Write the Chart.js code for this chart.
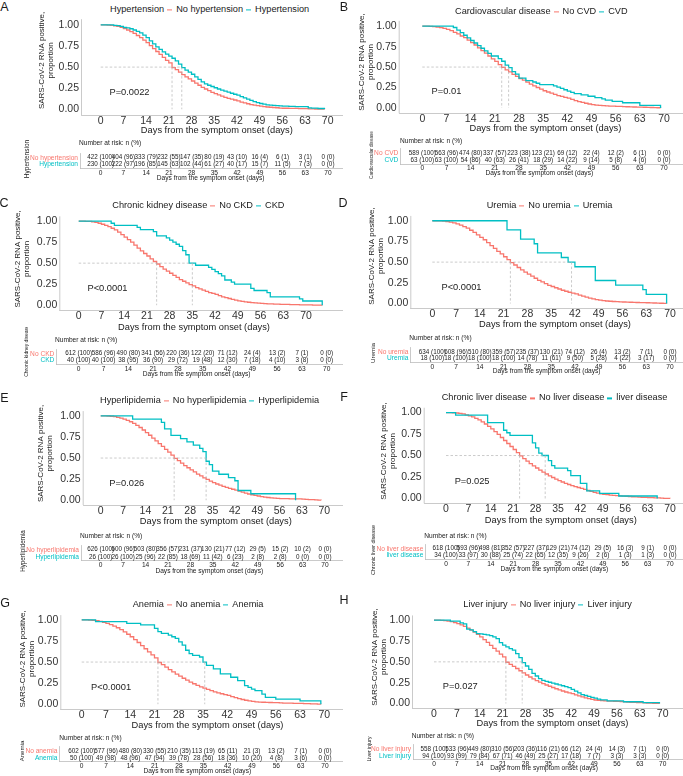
<!DOCTYPE html>
<html>
<head>
<meta charset="utf-8">
<script src="https://cdn.jsdelivr.net/npm/chart.js@4.4.1/dist/chart.umd.min.js"></script>
<style>
  body { margin: 0; background: #fff; }
  #fig { position: relative; width: 683px; height: 776px; overflow: hidden; background: #fff;
         font-family: "Liberation Sans", Arial, Helvetica, sans-serif; color: #1a1a1a; }
  .t { position: absolute; white-space: nowrap; line-height: 1; }
  .legend { display: flex; align-items: center; font-size: 9.2px; }
  .key { display: inline-block; width: 5px; height: 1.4px; margin: 0 4px 0 3px; }
</style>
</head>
<body>
<div id="fig"></div>
<script>
const RED = '#F8766D';
const CYAN = '#00BFC4';
const AXIS = '#bdbdbd';
const FONT = '"Liberation Sans", Arial, Helvetica, sans-serif';

// time axis
const riskDays = [0, 7, 14, 21, 28, 35, 42, 49, 56, 63, 70];
const yTicks = [0, 0.25, 0.5, 0.75, 1];

// A - hypertension (daily proportions from day 0)
const A_no = [1,1,.998,.995,.99,.983,.972,.958,.94,.92,.90,.875,.85,.82,.79,.755,.72,.685,.65,.615,.58,.55,.495,.47,.44,.41,.385,.36,.335,.31,.285,.26,.24,.22,.20,.185,.17,.155,.14,.13,.12,.11,.10,.085,.075,.065,.055,.048,.042,.036,.031,.027,.024,.021,.018,.014,.012,.012,.01,.01,.01,.008,.008,.007,.005,.005,.003,.003,.002,0];
const A_yes = [1,1,1,1,.996,.991,.983,.97,.965,.955,.94,.925,.905,.88,.85,.81,.775,.74,.71,.68,.655,.63,.605,.575,.535,.495,.465,.44,.415,.385,.355,.325,.30,.285,.27,.255,.24,.228,.215,.203,.19,.178,.167,.15,.135,.12,.105,.09,.078,.068,.06,.052,.048,.045,.043,.04,.038,.036,.035,.033,.032,.03,.03,.03,.017,.013,.013,.009,.009,0];
const A_noN = [422,404,333,232,147,80,43,16,6,3,0];
const A_noP = [100,96,79,55,35,19,10,4,1,1,0];
const A_yesN = [230,222,196,145,102,61,40,15,11,7,0];
const A_yesP = [100,97,85,63,44,27,17,7,5,3,0];

// B - cardiovascular disease
const B_no = [1,1,.998,.995,.99,.983,.972,.96,.945,.925,.905,.88,.86,.83,.80,.77,.735,.70,.67,.635,.60,.57,.53,.495,.465,.44,.41,.385,.36,.34,.315,.29,.27,.25,.23,.21,.195,.18,.165,.15,.14,.13,.12,.105,.09,.078,.067,.057,.048,.04,.035,.031,.028,.025,.023,.021,.02,.018,.016,.014,.012,.011,.01,.009,.008,.006,.005,.004,.002,0];
const B_yes = [[0,1],[9,.984],[10,.952],[11,.921],[12,.889],[13,.857],[14,.825],[15,.794],[16,.762],[17,.73],[18,.698],[19,.667],[20,.635],[22,.603],[23,.571],[24,.524],[25,.492],[26,.444],[27,.413],[28,.365],[30,.333],[32,.317],[33,.302],[34,.286],[38,.27],[39,.254],[40,.238],[41,.222],[42,.206],[43,.19],[44,.175],[46,.159],[48,.143],[50,.127],[52,.111],[53,.095],[55,.079],[58,.063],[63,.032],[69,0]];
const B_noN = [589,563,474,337,223,123,69,22,12,6,0];
const B_noP = [100,96,80,57,38,21,12,4,2,1,0];
const B_yesN = [63,63,54,40,26,18,14,9,5,4,0];
const B_yesP = [100,100,86,63,41,29,22,14,8,6,0];

// C - chronic kidney disease
const C_no = [1,1,.998,.996,.992,.986,.975,.963,.95,.935,.915,.895,.87,.84,.81,.78,.75,.715,.68,.645,.615,.585,.55,.52,.49,.46,.43,.405,.38,.355,.33,.305,.285,.265,.245,.23,.21,.195,.18,.165,.15,.14,.13,.115,.10,.09,.08,.07,.06,.052,.045,.04,.035,.031,.027,.024,.021,.019,.017,.015,.013,.012,.011,.01,.009,.008,.007,.006,.005,.004,.003,.003,.002,.002,.001,0];
const C_yes = [[0,1],[10,.975],[11,.95],[18,.925],[19,.90],[23,.875],[24,.825],[27,.80],[28,.775],[29,.75],[30,.725],[31,.70],[32,.65],[33,.60],[34,.50],[36,.475],[40,.45],[41,.425],[42,.40],[43,.375],[44,.35],[45,.30],[47,.275],[48,.25],[53,.20],[54,.175],[58,.15],[59,.10],[68,.075],[69,.05],[75,0]];
const C_noN = [612,586,490,341,220,122,71,24,13,7,0];
const C_noP = [100,96,80,56,36,20,12,4,2,1,0];
const C_yesN = [40,40,38,36,29,19,12,7,4,3,0];
const C_yesP = [100,100,95,90,72,48,30,18,10,8,0];

// D - uremia
const D_no = [1,1,.998,.995,.99,.984,.974,.962,.948,.93,.91,.885,.86,.83,.80,.77,.735,.70,.665,.63,.60,.565,.53,.495,.465,.435,.405,.38,.355,.33,.305,.28,.26,.24,.22,.205,.19,.175,.16,.148,.136,.125,.115,.10,.088,.076,.065,.055,.047,.04,.035,.03,.027,.024,.022,.02,.018,.016,.015,.013,.012,.011,.01,.009,.007,.006,.004,.003,.002,0];
const D_yes = [[0,1],[22,.889],[26,.778],[30,.722],[31,.611],[38,.556],[40,.5],[42,.444],[48,.278],[54,.222],[62,.167],[63,.111],[69,0]];
const D_noN = [634,608,510,359,235,130,74,26,13,7,0];
const D_noP = [100,96,80,57,37,21,12,4,2,1,0];
const D_yesN = [18,18,18,18,14,11,9,5,4,3,0];
const D_yesP = [100,100,100,100,78,61,50,28,22,17,0];

// E - hyperlipidemia
const E_no = [1,1,.998,.995,.99,.983,.973,.96,.946,.93,.91,.887,.862,.832,.80,.77,.737,.703,.67,.637,.603,.57,.535,.497,.47,.44,.41,.385,.36,.335,.31,.288,.266,.246,.226,.208,.192,.178,.164,.152,.14,.13,.12,.107,.095,.084,.074,.065,.057,.05,.043,.037,.032,.028,.025,.022,.02,.019,.018,.017,.016,.015,.015,.013,.01,.008,.006,.004,.002,0];
const E_yes = [[0,1],[10,.962],[19,.923],[20,.846],[22,.769],[25,.731],[27,.692],[29,.654],[31,.615],[32,.577],[33,.462],[34,.423],[35,.346],[37,.308],[40,.269],[42,.231],[43,.115],[47,.077],[61,0]];
const E_noN = [626,600,503,356,231,130,77,29,15,10,0];
const E_noP = [100,96,80,57,37,21,12,5,2,2,0];
const E_yesN = [26,26,25,22,18,11,6,2,2,0,0];
const E_yesP = [100,100,96,85,69,42,23,8,8,0,0];

// F - chronic liver disease
const F_no = [1,1,.998,.995,.99,.984,.974,.962,.95,.933,.915,.892,.867,.84,.81,.778,.745,.71,.675,.64,.605,.57,.533,.497,.465,.435,.405,.38,.355,.33,.307,.285,.264,.244,.226,.208,.192,.177,.163,.15,.138,.128,.118,.105,.093,.082,.072,.063,.055,.049,.044,.04,.036,.033,.03,.028,.026,.023,.02,.018,.016,.014,.012,.01,.009,.008,.006,.004,.002,.001,0];
const F_yes = [[0,1],[3,.971],[13,.882],[18,.794],[19,.765],[20,.735],[27,.647],[28,.588],[29,.529],[30,.50],[32,.441],[33,.382],[34,.353],[38,.324],[39,.265],[42,.176],[44,.088],[48,.059],[54,.029],[66,0]];
const F_noN = [618,593,498,352,227,129,74,29,16,9,0];
const F_noP = [100,96,81,57,37,21,12,5,3,1,0];
const F_yesN = [34,33,30,25,22,12,9,2,1,1,0];
const F_yesP = [100,97,88,74,65,35,26,6,3,3,0];

// G - anemia
const G_no = [1,1,.998,.995,.99,.983,.972,.96,.945,.927,.907,.884,.858,.83,.80,.767,.732,.695,.658,.62,.585,.55,.495,.47,.44,.41,.383,.357,.332,.308,.285,.263,.243,.224,.206,.19,.175,.16,.147,.135,.124,.114,.104,.09,.077,.066,.056,.047,.04,.033,.028,.025,.023,.021,.02,.019,.018,.016,.014,.013,.012,.011,.01,.009,.008,.006,.005,.003,.002,0];
const G_yes = [[0,1],[4,.98],[13,.96],[17,.94],[21,.90],[22,.86],[23,.84],[25,.82],[26,.80],[27,.78],[28,.74],[29,.70],[30,.64],[31,.60],[32,.58],[34,.56],[35,.50],[36,.46],[38,.42],[40,.36],[43,.32],[45,.28],[47,.22],[48,.20],[49,.18],[50,.16],[52,.12],[53,.08],[56,.06],[63,.04],[69,0]];
const G_noN = [602,577,480,330,210,113,65,21,13,7,0];
const G_noP = [100,96,80,55,35,19,11,3,2,1,0];
const G_yesN = [50,49,48,47,39,28,18,10,4,3,0];
const G_yesP = [100,98,96,94,78,56,36,20,8,6,0];

// H - liver injury
const H_no = [1,1,.998,.995,.99,.983,.972,.96,.944,.926,.905,.882,.857,.83,.80,.767,.733,.698,.663,.628,.594,.56,.495,.47,.445,.42,.393,.367,.342,.318,.296,.275,.256,.238,.222,.207,.192,.177,.163,.15,.138,.128,.118,.104,.091,.079,.068,.058,.049,.042,.037,.034,.031,.029,.028,.027,.026,.023,.02,.017,.015,.013,.011,.01,.008,.006,.005,.003,.002,0];
const H_yes = [1,1,1,1,1,.989,.989,.989,.968,.957,.894,.883,.862,.84,.835,.83,.825,.815,.80,.78,.73,.70,.68,.66,.64,.60,.55,.49,.45,.41,.362,.33,.298,.277,.266,.255,.245,.234,.223,.213,.202,.191,.17,.149,.128,.106,.096,.085,.074,.064,.053,.043,.043,.032,.032,.032,.032,.032,.021,.021,.021,.021,.021,.021,.011,.011,.011,.011,.011,0];
const H_noN = [558,533,449,310,203,116,66,24,14,7,0];
const H_noP = [100,96,80,56,36,21,12,4,3,1,0];
const H_yesN = [94,93,79,67,46,25,17,7,3,3,0];
const H_yesP = [100,99,84,71,49,27,18,7,3,3,0];

const groupNames = [
  ['Hypertension', 'No hypertension', 'Hypertension'],
  ['Cardiovascular disease', 'No CVD', 'CVD'],
  ['Chronic kidney disease', 'No CKD', 'CKD'],
  ['Uremia', 'No uremia', 'Uremia'],
  ['Hyperlipidemia', 'No hyperlipidemia', 'Hyperlipidemia'],
  ['Chronic liver disease', 'No liver disease', 'liver disease'],
  ['Anemia', 'No anemia', 'Anemia'],
  ['Liver injury', 'No liver injury', 'Liver injury']
];
const pValues = ['P=0.0022', 'P=0.01', 'P<0.0001', 'P<0.0001', 'P=0.026', 'P=0.025', 'P<0.0001', 'P=0.027'];
const letters = ['A', 'B', 'C', 'D', 'E', 'F', 'G', 'H'];
const pAt = [2.7, 0.2];

const curves = [
  [A_no, A_yes], [B_no, B_yes], [C_no, C_yes], [D_no, D_yes],
  [E_no, E_yes], [F_no, F_yes], [G_no, G_yes], [H_no, H_yes]
];
const risk = [
  [A_noN, A_noP, A_yesN, A_yesP], [B_noN, B_noP, B_yesN, B_yesP],
  [C_noN, C_noP, C_yesN, C_yesP], [D_noN, D_noP, D_yesN, D_yesP],
  [E_noN, E_noP, E_yesN, E_yesP], [F_noN, F_noP, F_yesN, F_yesP],
  [G_noN, G_noP, G_yesN, G_yesP], [H_noN, H_noP, H_yesN, H_yesP]
];

// page layout of every panel (pixels)
const layout = [
  { letter: [4.5, 7], legend: [110, 10],
    plot: { x0: 100.7, x70: 327.7, y1: 21, y0: 109, axisY: 115, tickRight: 79, right: 343, top: 1, titleX: 41.7 },
    xTitle: [216.8, 131],
    table: { row1: 154, row2: 163, lineY: 168.5, labelRight: 78, x0: 100.7, x70: 328, right: 343 },
    head: [79, 143], tTitle: [210.7, 178], strip: { x: 27, y: 159, size: 6.5 } },
  { letter: [344, 7], legend: [455, 11.7],
    plot: { x0: 422.3, x70: 664, y1: 22.7, y0: 107.7, axisY: 113.3, tickRight: 396.7, right: 683, top: 6.7, titleX: 361.7 },
    xTitle: [545.4, 129.3],
    table: { row1: 149.3, row2: 159.3, lineY: 164, labelRight: 398.3, x0: 422.3, x70: 664, right: 683 },
    head: [400, 140.7], tTitle: [539.3, 173.3], strip: { x: 371.7, y: 155, size: 4.6 } },
  { letter: [4, 203], legend: [112.3, 205.7],
    plot: { x0: 78.7, x70: 306, y1: 217.3, y0: 305, axisY: 310, tickRight: 57.3, right: 343, top: 203.4, titleX: 17.3 },
    xTitle: [194, 327.7],
    table: { row1: 350, row2: 359, lineY: 364.3, labelRight: 54.3, x0: 78.7, x70: 326.7, right: 343 },
    head: [55, 340.3], tTitle: [196.7, 374.3], strip: { x: 26, y: 351, size: 5, clip: 327 } },
  { letter: [343, 203], legend: [486.7, 206],
    plot: { x0: 432.3, x70: 670, y1: 217.3, y0: 303.3, axisY: 308.3, tickRight: 408.3, right: 683, top: 199.7, titleX: 371.7 },
    xTitle: [555, 325],
    table: { row1: 348.3, row2: 357.3, lineY: 362.7, labelRight: 408.3, x0: 432.3, x70: 670, right: 683 },
    head: [409.3, 338.3], tTitle: [546.7, 370.7], strip: { x: 373.3, y: 353.3, size: 6.2 } },
  { letter: [4.5, 398], legend: [100, 400.7],
    plot: { x0: 100.7, x70: 324.3, y1: 411.7, y0: 500, axisY: 505, tickRight: 80.7, right: 343, top: 397, titleX: 41 },
    xTitle: [215.8, 521.7],
    table: { row1: 546, row2: 555.7, lineY: 560.7, labelRight: 79, x0: 100.7, x70: 325, right: 343 },
    head: [80, 536], tTitle: [209.3, 570.7], strip: { x: 22.7, y: 551, size: 6.3 } },
  { letter: [344, 397], legend: [441.7, 398.3],
    plot: { x0: 446, x70: 670, y1: 409, y0: 498.3, axisY: 503.3, tickRight: 421.7, right: 683, top: 394.7, titleX: 383.3 },
    xTitle: [560.8, 520.7],
    table: { row1: 545.3, row2: 554.3, lineY: 559.3, labelRight: 423.3, x0: 446, x70: 670, right: 683 },
    head: [424.3, 535.7], tTitle: [554.3, 568.7], strip: { x: 374.3, y: 550, size: 5.4 } },
  { letter: [5, 603], legend: [132.7, 605],
    plot: { x0: 81.7, x70: 324.3, y1: 616, y0: 704, axisY: 709, tickRight: 58.3, right: 343, top: 604.4, titleX: 22.7 },
    xTitle: [207.5, 726],
    table: { row1: 747.7, row2: 757.3, lineY: 761.7, labelRight: 57.3, x0: 81.7, x70: 325, right: 343 },
    head: [59.3, 737.7], tTitle: [197.3, 770.7], strip: { x: 21.7, y: 751.3, size: 6.1 } },
  { letter: [344, 600], legend: [463.3, 605],
    plot: { x0: 434, x70: 662.7, y1: 616.7, y0: 703.3, axisY: 708.3, tickRight: 410, right: 683, top: 601.7, titleX: 375 },
    xTitle: [552.5, 724.3],
    table: { row1: 745.7, row2: 755, lineY: 759.3, labelRight: 411, x0: 434, x70: 662.7, right: 683 },
    head: [411.7, 735.7], tTitle: [544, 768.3], strip: { x: 370, y: 749, size: 5.2 } }
];

Chart.defaults.font.family = FONT;
Chart.defaults.color = '#333';

const fig = document.getElementById('fig');

function addText(x, y, str, size, anchor, extra) {
  const e = document.createElement('div');
  e.className = 't';
  e.textContent = str;
  const tr = anchor === 'left' ? 'translate(0,-50%)' : 'translate(-50%,-50%)';
  e.style.cssText = `left:${x}px;top:${y}px;font-size:${size}px;transform:${tr};` + (extra || '');
  fig.appendChild(e);
  return e;
}

function canvasAt(left, top, w, h) {
  const c = document.createElement('canvas');
  c.width = w; c.height = h;
  c.style.cssText = `position:absolute;left:${left}px;top:${top}px;width:${w}px;height:${h}px;`;
  fig.appendChild(c);
  return c;
}

function toPoints(series) {
  if (Array.isArray(series[0])) return series.map(([x, y]) => ({ x, y }));
  return series.map((y, i) => ({ x: i, y }));
}

function medianOf(pts) {
  for (let i = 0; i < pts.length; i++) {
    if (Math.abs(pts[i].y - 0.5) < 1e-9 && pts[i + 1]) return (pts[i].x + pts[i + 1].x) / 2;
    if (pts[i].y < 0.5) return pts[i].x;
  }
  return null;
}

// left axis line, dashed median lines and p value
const kmExtras = {
  id: 'kmExtras',
  afterDatasetsDraw(chart, args, opts) {
    const { ctx, scales: { x, y } } = chart;
    const y5 = y.getPixelForValue(0.5), yb = y.getPixelForValue(0);
    ctx.save();
    ctx.strokeStyle = AXIS;
    ctx.lineWidth = 0.8;
    ctx.beginPath();
    ctx.moveTo(x.left, y.getPixelForValue(1 - y.min));
    ctx.lineTo(x.left, y.bottom);
    ctx.stroke();

    ctx.strokeStyle = '#b5b5b5';
    ctx.lineWidth = 0.7;
    ctx.setLineDash([2.5, 2]);
    ctx.beginPath();
    ctx.moveTo(x.getPixelForValue(0), y5);
    ctx.lineTo(x.getPixelForValue(Math.max(...opts.medians)), y5);
    opts.medians.forEach(m => {
      const px = x.getPixelForValue(m);
      ctx.moveTo(px, y5);
      ctx.lineTo(px, yb);
    });
    ctx.stroke();
    ctx.setLineDash([]);

    ctx.fillStyle = '#222';
    ctx.font = '9.3px ' + FONT;
    ctx.textAlign = 'left';
    ctx.textBaseline = 'middle';
    ctx.fillText(opts.pText, x.getPixelForValue(pAt[0]), y.getPixelForValue(pAt[1]));
    ctx.restore();
  }
};

// numbers of the risk table
const riskLabels = {
  id: 'riskLabels',
  afterDatasetsDraw(chart) {
    const ctx = chart.ctx;
    ctx.save();
    ctx.fillStyle = '#222';
    ctx.font = '6.3px ' + FONT;
    ctx.textAlign = 'center';
    ctx.textBaseline = 'middle';
    chart.data.datasets.forEach((ds, di) => {
      chart.getDatasetMeta(di).data.forEach((pt, i) => {
        const r = ds.data[i];
        ctx.fillText(`${r.n} (${r.p})`, pt.x, pt.y);
      });
    });
    ctx.restore();
  }
};

function drawKm(k) {
  const g = layout[k].plot;
  const ppd = (g.x70 - g.x0) / 70, ppu = g.y0 - g.y1;
  const left = g.tickRight + 2.5, top = g.top, bottom = g.axisY;
  const lh = 9.2;
  const titleEdge = g.titleX - lh / 2 - 1;
  const cl = Math.floor(titleEdge), ct = Math.floor(top - 4);
  const w = Math.ceil(g.right - cl), h = Math.ceil(bottom + 16 - ct);
  const padL = titleEdge - cl, padT = top - ct;
  const red = toPoints(curves[k][0]), cyan = toPoints(curves[k][1]);

  new Chart(canvasAt(cl, ct, w, h), {
    type: 'line',
    data: {
      datasets: [
        { data: cyan, borderColor: CYAN, borderWidth: 1.3, stepped: true, pointRadius: 0, fill: false },
        { data: red, borderColor: RED, borderWidth: 1.3, stepped: true, pointRadius: 0, fill: false }
      ]
    },
    options: {
      responsive: false,
      animation: false,
      events: [],
      layout: { padding: { left: padL, top: padT, right: 0, bottom: 0 } },
      plugins: {
        legend: { display: false },
        tooltip: { enabled: false },
        kmExtras: { medians: [medianOf(red), medianOf(cyan)], pText: pValues[k] }
      },
      scales: {
        x: {
          type: 'linear',
          min: (left - g.x0) / ppd,
          max: (cl + w - g.x0) / ppd,
          grid: { display: false, drawTicks: false },
          border: { display: true, color: AXIS, width: 0.8 },
          ticks: { padding: 0, font: { size: 10.5 }, color: '#333', autoSkip: false, maxRotation: 0 },
          afterBuildTicks: s => { s.ticks = riskDays.map(v => ({ value: v })); },
          afterFit: s => { s.height = ct + h - bottom; }
        },
        y: {
          type: 'linear',
          min: -(bottom - g.y0) / ppu,
          max: 1 + (g.y1 - top) / ppu,
          grid: { display: false, drawTicks: false },
          border: { display: false },
          ticks: { padding: 2.5, font: { size: 10.5 }, color: '#333', callback: v => v.toFixed(2) },
          afterBuildTicks: s => { s.ticks = yTicks.map(v => ({ value: v })); },
          afterFit: s => { s.width = left - cl - padL; },
          title: {
            display: true,
            text: ['SARS-CoV-2 RNA positive,', 'proportion'],
            font: { size: 8, lineHeight: 1.15 },
            color: '#222',
            padding: { top: 1, bottom: 0 }
          }
        }
      }
    },
    plugins: [kmExtras]
  });
}

function drawRisk(k) {
  const t = layout[k].table;
  const names = groupNames[k];
  const [noN, noP, yesN, yesP] = risk[k];
  const ppd = (t.x70 - t.x0) / 70, ppu = t.row2 - t.row1;
  const left = t.labelRight + 2, top = t.row1 - 5, bottom = t.lineY;
  const cl = Math.floor(left - 70), ct = Math.floor(top - 1);
  const w = Math.ceil(t.right - cl), h = Math.ceil(bottom + 9 - ct);
  const padT = top - ct;

  new Chart(canvasAt(cl, ct, w, h), {
    type: 'scatter',
    data: {
      datasets: [
        { data: riskDays.map((d, i) => ({ x: d, y: 2, n: noN[i], p: noP[i] })), pointRadius: 0 },
        { data: riskDays.map((d, i) => ({ x: d, y: 1, n: yesN[i], p: yesP[i] })), pointRadius: 0 }
      ]
    },
    options: {
      responsive: false,
      animation: false,
      events: [],
      layout: { padding: { left: 0, top: padT, right: 0, bottom: 0 } },
      plugins: { legend: { display: false }, tooltip: { enabled: false } },
      scales: {
        x: {
          type: 'linear',
          min: (left - t.x0) / ppd,
          max: (cl + w - t.x0) / ppd,
          grid: { display: false, drawTicks: false },
          border: { display: true, color: AXIS, width: 0.8 },
          ticks: { padding: 0.5, font: { size: 6.6 }, color: '#222', autoSkip: false, maxRotation: 0 },
          afterBuildTicks: s => { s.ticks = riskDays.map(v => ({ value: v })); },
          afterFit: s => { s.height = ct + h - bottom; }
        },
        y: {
          type: 'linear',
          min: 1 - (bottom - t.row2) / ppu,
          max: 2 + (t.row1 - top) / ppu,
          grid: { display: false, drawTicks: false },
          border: { display: true, color: AXIS, width: 0.8 },
          ticks: {
            padding: 2,
            font: { size: 6.6 },
            color: c => (c.tick && c.tick.value === 2 ? RED : CYAN),
            callback: v => (v === 2 ? names[1] : names[2])
          },
          afterBuildTicks: s => { s.ticks = [{ value: 1 }, { value: 2 }]; },
          afterFit: s => { s.width = left - cl; }
        }
      }
    },
    plugins: [riskLabels]
  });
}

function drawLegend(k) {
  const [x, y] = layout[k].legend;
  const names = groupNames[k];
  const lg = document.createElement('div');
  lg.className = 't legend';
  lg.style.cssText = `left:${x}px;top:${y}px;transform:translate(0,-50%);`;
  lg.innerHTML = `<span>${names[0]}</span><span class="key" style="background:${RED}"></span>` +
    `<span>${names[1]}</span><span class="key" style="background:${CYAN}"></span><span>${names[2]}</span>`;
  fig.appendChild(lg);
}

function drawStrip(k) {
  const s = layout[k].strip;
  const clipTop = s.clip != null ? s.clip : s.y - 60;
  const box = document.createElement('div');
  box.style.cssText = `position:absolute;left:${s.x - 15}px;top:${clipTop}px;width:30px;height:120px;overflow:hidden;`;
  const e = document.createElement('div');
  e.className = 't';
  e.textContent = groupNames[k][0];
  e.style.cssText = `left:15px;top:${s.y - clipTop}px;font-size:${s.size}px;transform:translate(-50%,-50%) rotate(-90deg);`;
  box.appendChild(e);
  fig.appendChild(box);
}

layout.forEach((p, k) => {
  addText(p.letter[0], p.letter[1], letters[k], 12.5);
  drawLegend(k);
  drawKm(k);
  addText(p.xTitle[0], p.xTitle[1], 'Days from the symptom onset (days)', 9.3);
  addText(p.head[0], p.head[1], 'Number at risk: n (%)', 6.6, 'left');
  drawRisk(k);
  addText(p.tTitle[0], p.tTitle[1], 'Days from the symptom onset (days)', 6.6);
  drawStrip(k);
});
</script>
</body>
</html>
